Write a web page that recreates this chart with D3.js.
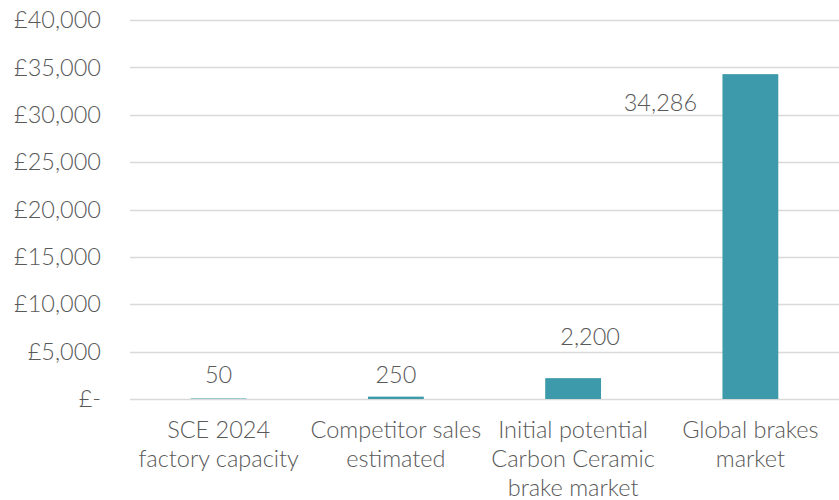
<!DOCTYPE html>
<html>
<head>
<meta charset="utf-8">
<script src="https://cdn.jsdelivr.net/npm/d3@7"></script>
<style>
  html, body { margin: 0; padding: 0; background: #fff; }
  text { font-family: Lato, "Open Sans", sans-serif; font-weight: 300; fill: #595959; }
</style>
</head>
<body>
<svg id="chart" width="839" height="500"></svg>
<script>
// Chart data
const categories = [
  ["SCE 2024", "factory capacity"],
  ["Competitor sales", "estimated"],
  ["Initial potential", "Carbon Ceramic", "brake market"],
  ["Global brakes", "market"]
];
const values = [50, 250, 2200, 34286];
const labelText = ["50", "250", "2,200", "34,286"];
const yTicks = [0, 5000, 10000, 15000, 20000, 25000, 30000, 35000, 40000];
const yTickLabels = ["£-", "£5,000", "£10,000", "£15,000", "£20,000", "£25,000", "£30,000", "£35,000", "£40,000"];
// Data label anchor offsets relative to each bar (dx from bar centre, y in data units)
const labelDx = [0, 0, 17, -90];
const labelAt = [2600, 2600, 6600, 31300];

const svg = d3.select("#chart");
const margin = { left: 130, right: 0, top: 20, bottom: 101 };
const W = 839, H = 500;
const FS = 23.5;

const x = d3.scaleBand()
  .domain(d3.range(categories.length))
  .range([margin.left, W - margin.right])
  .paddingInner(0.685)
  .paddingOuter(0.3425);

const y = d3.scaleLinear().domain([0, 40000]).range([H - margin.bottom, margin.top]);

// Gridlines
svg.append("g")
  .selectAll("line")
  .data(yTicks)
  .join("line")
  .attr("x1", margin.left)
  .attr("x2", W - margin.right)
  .attr("y1", d => Math.round(y(d)) + 0.5)
  .attr("y2", d => Math.round(y(d)) + 0.5)
  .attr("stroke", "#d9d9d9")
  .attr("stroke-width", 1.5);

// Y axis labels
svg.append("g")
  .selectAll("text")
  .data(yTicks)
  .join("text")
  .attr("x", 101)
  .attr("y", d => y(d))
  .attr("dy", "0.35em")
  .attr("text-anchor", "end")
  .attr("font-size", FS)
  .text((d, i) => yTickLabels[i]);

// Bars
svg.append("g")
  .selectAll("rect")
  .data(values)
  .join("rect")
  .attr("x", (d, i) => x(i))
  .attr("width", x.bandwidth())
  .attr("y", d => y(d))
  .attr("height", d => y(0) - y(d))
  .attr("fill", "#3d9aab");

// Data labels
svg.append("g")
  .selectAll("text")
  .data(values)
  .join("text")
  .attr("x", (d, i) => x(i) + x.bandwidth() / 2 + labelDx[i])
  .attr("y", (d, i) => y(labelAt[i]))
  .attr("dy", "0.35em")
  .attr("text-anchor", "middle")
  .attr("font-size", FS)
  .text((d, i) => labelText[i]);

// Category labels
const cat = svg.append("g")
  .selectAll("text")
  .data(categories)
  .join("text")
  .attr("x", (d, i) => x(i) + x.bandwidth() / 2)
  .attr("y", 430)
  .attr("text-anchor", "middle")
  .attr("font-size", FS);
cat.selectAll("tspan")
  .data(d => d)
  .join("tspan")
  .attr("x", function () { return d3.select(this.parentNode).attr("x"); })
  .attr("dy", (d, i) => i === 0 ? "0.35em" : "1.23em")
  .text(d => d);
</script>
</body>
</html>
